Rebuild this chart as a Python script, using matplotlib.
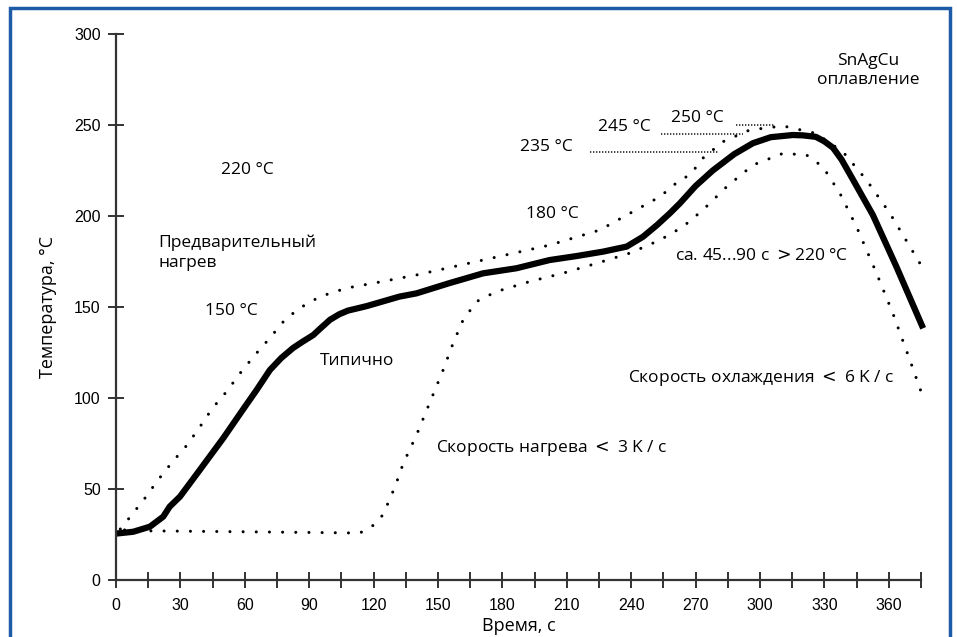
import matplotlib
matplotlib.use("Agg")
import matplotlib.pyplot as plt
from matplotlib.patches import Rectangle

# typical profile (solid)
typ_t = [0, 8, 15.8, 22, 25, 29.8, 39, 50, 59, 65.5, 71.7, 77, 82.5, 87, 91.9, 95,
         99.7, 104, 108, 116.8, 132, 140, 155, 171, 186.6, 202, 214.6, 226.8, 237.9,
         245.5, 252, 258, 262.7, 270, 278, 288, 296.7, 305, 315.3, 320, 326, 330,
         334, 338, 343.3, 352.6, 363.6, 376]
typ_T = [25.5, 26.5, 29.3, 34.8, 40.3, 45.8, 60.4, 78, 93.4, 104.4, 115.4, 122,
         127.5, 131, 134.6, 138, 143, 146, 148, 150.5, 155.7, 157.5, 163, 168.5,
         171.3, 175.8, 178, 180.4, 183.2, 188.6, 195, 201.5, 207, 216.5, 225, 234,
         240, 243.3, 244.5, 244.3, 243.5, 241, 237.5, 231, 220, 200.5, 172, 138.3]

# upper limit (dotted)
up_t = [2, 7.3, 13.5, 19.6, 26, 33, 39, 45, 51.5, 57.8, 64.7, 71.7, 78.7, 85.7, 95,
        107.4, 121.4, 140, 171, 202, 225.4, 240.8, 253.4, 262.7, 267.4, 273.4, 282.7,
        295.3, 310.7, 326, 338.6, 349.6, 360.5, 374.5]
up_T = [28, 35.7, 45, 55, 64.5, 74, 84, 94.5, 103.5, 113.6, 123.6, 133, 143, 149.5,
        155.7, 160.4, 163.4, 167.6, 175.8, 184, 192.3, 202.4, 210.6, 219.8, 222.5,
        231.8, 240.8, 247.3, 249.5, 245.4, 235.3, 219.8, 201.5, 174]

# lower limit (dotted)
lo_t = [4, 15.8, 60, 100, 113.6, 119.8, 123.7, 126, 130, 133.8, 140, 146, 152.4,
        157, 161.7, 168, 177, 192.8, 208.3, 223.9, 239.4, 253.4, 264, 273.4, 284.4,
        296.7, 310.7, 321.7, 329.3, 337.2, 345, 354.3, 361.9, 369.8, 375.3]
lo_T = [27.5, 27, 26.5, 26, 25.8, 30, 34.8, 40.3, 51.3, 64, 79.7, 97, 115.4, 130,
        142.9, 153, 158.4, 164, 168.6, 174, 179.6, 186.8, 194, 203.3, 216, 228,
        234.4, 233.5, 227, 212.5, 194, 168.5, 146.5, 120.9, 102.6]

# reference levels: (temperature, t_start, t_end)
ref_levels = [(235, 220.8, 280.4), (245, 254, 292), (250, 289, 307)]

x_ticks = list(range(0, 376, 15))
x_labels = [str(v) if v % 30 == 0 and v <= 360 else "" for v in x_ticks]
y_ticks = [0, 50, 100, 150, 200, 250, 300]

plt.rcParams['font.family'] = ['Open Sans', 'DejaVu Sans']

fig = plt.figure(figsize=(9.57, 6.37), dpi=100)
ax = fig.add_axes([116 / 957, 57 / 637, 805 / 957, 546 / 637])

dot = dict(color='black', lw=2.2, linestyle=(0, (0.01, 4.3)),
           dash_capstyle='round', clip_on=False)
ax.plot(up_t, up_T, **dot)
ax.plot(lo_t, lo_T, **dot)
ax.plot(typ_t, typ_T, color='black', lw=4.5, solid_capstyle='butt',
        solid_joinstyle='round', clip_on=False)
for temp, t0, t1 in ref_levels:
    ax.plot([t0, t1], [temp, temp], color='#222222', lw=1.2,
            linestyle=(0, (0.8, 1.0)))

ax.set_xlim(0, 375)
ax.set_ylim(0, 300)
ax.set_xticks(x_ticks)
ax.set_xticklabels(x_labels)
ax.set_yticks(y_ticks)
for s in ['top', 'right']:
    ax.spines[s].set_visible(False)
for s in ['left', 'bottom']:
    ax.spines[s].set_color('#333333')
    ax.spines[s].set_linewidth(1.6)
ax.tick_params(direction='inout', length=12, width=1.4, color='#333333',
               labelsize=11.5)
ax.tick_params(axis='x', pad=7)
ax.tick_params(axis='y', pad=5)
for lab in ax.get_xticklabels() + ax.get_yticklabels():
    lab.set_family(['Liberation Sans', 'DejaVu Sans'])

ax.set_xlabel('Время, с', fontsize=13, labelpad=3)
ax.set_ylabel('Температура, °С', fontsize=13, labelpad=12)

fs = 12.5
ax.text(350.3, 280, 'SnAgCu\nоплавление', ha='center', va='center', fontsize=fs,
        linespacing=1.3)
ax.text(270.6, 253.8, '250 °C', ha='center', va='center', fontsize=fs)
ax.text(237, 249, '245 °C', ha='center', va='center', fontsize=fs)
ax.text(200.3, 238, '235 °C', ha='center', va='center', fontsize=fs)
ax.text(61, 225.3, '220 °C', ha='center', va='center', fontsize=fs)
ax.text(203.5, 201, '180 °C', ha='center', va='center', fontsize=fs)
ax.text(19.6, 179.7, 'Предварительный\nнагрев', ha='left', va='center',
        fontsize=fs, linespacing=1.3)
ax.text(53.6, 147.8, '150 °C', ha='center', va='center', fontsize=fs)
ax.text(95, 120.3, 'Типично', ha='left', va='center', fontsize=fs)
ax.text(260.4, 178, 'ca. 45...90 c $>$220 °C', ha='left', va='center', fontsize=fs)
ax.text(238.5, 111, 'Скорость охлаждения $<$ 6 K / c', ha='left', va='center',
        fontsize=fs)
ax.text(149, 72.5, 'Скорость нагрева $<$ 3 K / c', ha='left', va='center',
        fontsize=fs)

fig.patches.append(Rectangle((10 / 957, -0.05), 940 / 957, 1.05 - 8 / 637,
                             transform=fig.transFigure, fill=False,
                             edgecolor='#1d5ba6', lw=2.5, clip_on=False))

fig.savefig('out.png', dpi=100)
